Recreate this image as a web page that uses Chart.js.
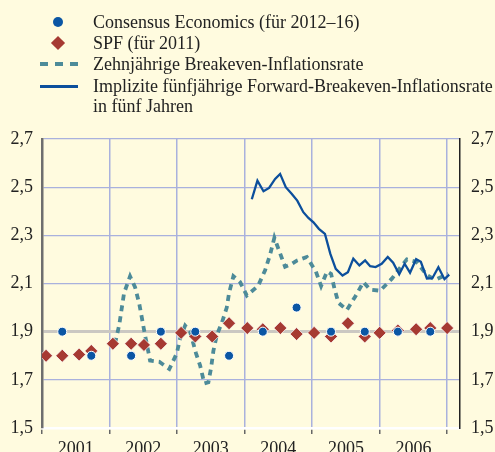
<!DOCTYPE html>
<html><head><meta charset="utf-8">
<script src="https://cdn.jsdelivr.net/npm/chart.js@4/dist/chart.umd.min.js"></script>
<style>
html,body{margin:0;padding:0;background:#fffbdf;}
#wrap{position:relative;width:495px;height:452px;overflow:hidden;background:#fffbdf;}
#c{position:absolute;left:0;top:0;}
.lg{position:absolute;left:93px;font-family:"Liberation Serif","Times New Roman",serif;font-size:18px;line-height:20px;color:#222;white-space:nowrap;}
.ic{position:absolute;}
</style></head>
<body><div id="wrap">
<canvas id="c" width="495" height="452"></canvas>
<div class="ic" style="left:53px;top:17px;width:10px;height:10px;border-radius:50%;background:#0b56a4;"></div>
<div class="ic" style="left:53px;top:38px;width:10px;height:10px;background:#a63a32;transform:rotate(45deg);"></div>
<div class="ic" style="left:40px;top:62px;width:38px;height:4px;background:repeating-linear-gradient(to right,#4d8b99 0 8px,transparent 8px 15px);"></div>
<div class="ic" style="left:40px;top:85px;width:38px;height:2.5px;background:#0c4f9c;"></div>
<div class="lg" style="top:12px;">Consensus Economics (für 2012–16)</div>
<div class="lg" style="top:33px;">SPF (für 2011)</div>
<div class="lg" style="top:54px;">Zehnjährige Breakeven-Inflationsrate</div>
<div class="lg" style="top:76px;">Implizite fünfjährige Forward-Breakeven-Inflationsrate<br>in fünf Jahren</div>
</div>
<script>
// ---- data ----
const years = [2001, 2002, 2003, 2004, 2005, 2006];
const yearLabels = ['2001', '2002', '2003', '2004', '2005', '2006'];
const yTickValues = [1.5, 1.7, 1.9, 2.1, 2.3, 2.5, 2.7];
const yTickLabels = ['1,5', '1,7', '1,9', '2,1', '2,3', '2,5', '2,7'];

const consTimes = [2001.30, 2001.73, 2002.32, 2002.76, 2003.27, 2003.77, 2004.27, 2004.77, 2005.28, 2005.78, 2006.27, 2006.75];
const consValues = [1.90, 1.80, 1.80, 1.90, 1.90, 1.80, 1.90, 2.00, 1.90, 1.90, 1.90, 1.90];

const spfTimes = [2001.06, 2001.30, 2001.55, 2001.73, 2002.05, 2002.32, 2002.51, 2002.76, 2003.06, 2003.27, 2003.52, 2003.77,
  2004.04, 2004.27, 2004.53, 2004.77, 2005.03, 2005.28, 2005.53, 2005.78, 2006.00, 2006.27, 2006.54, 2006.75, 2007.00];
const spfValues = [1.80, 1.80, 1.805, 1.82, 1.85, 1.85, 1.845, 1.85, 1.895, 1.88, 1.88, 1.935,
  1.915, 1.91, 1.915, 1.89, 1.895, 1.88, 1.935, 1.88, 1.895, 1.905, 1.91, 1.915, 1.915];

const beTimes = [2002.081, 2002.145, 2002.215, 2002.304, 2002.378, 2002.441, 2002.477, 2002.516, 2002.600, 2002.738, 2002.886,
  2002.996, 2003.044, 2003.119, 2003.193, 2003.281, 2003.341, 2003.404, 2003.464, 2003.504, 2003.538, 2003.588, 2003.667,
  2003.736, 2003.770, 2003.834, 2003.933, 2004.033, 2004.200, 2004.304, 2004.378, 2004.441, 2004.519, 2004.600, 2004.689,
  2004.773, 2004.921, 2005.055, 2005.133, 2005.222, 2005.281, 2005.330, 2005.390, 2005.514, 2005.637, 2005.760, 2005.859,
  2006.007, 2006.181, 2006.329, 2006.403, 2006.541, 2006.630, 2006.700, 2006.822, 2007.019];
const beValues = [1.85, 1.93, 2.06, 2.13, 2.085, 2.015, 1.96, 1.90, 1.78, 1.775, 1.745,
  1.81, 1.87, 1.925, 1.90, 1.81, 1.76, 1.685, 1.69, 1.75, 1.82, 1.885, 1.94,
  2.00, 2.06, 2.13, 2.106, 2.05, 2.09, 2.155, 2.22, 2.29, 2.23, 2.17, 2.18,
  2.195, 2.21, 2.15, 2.09, 2.15, 2.14, 2.08, 2.02, 1.99, 2.045, 2.106, 2.075,
  2.07, 2.12, 2.175, 2.20, 2.19, 2.16, 2.135, 2.115, 2.14];

const fwdTimes = [2004.107, 2004.190, 2004.280, 2004.363, 2004.452, 2004.526, 2004.610, 2004.700, 2004.780, 2004.870, 2004.945, 2005.020,
  2005.100, 2005.190, 2005.270, 2005.350, 2005.450, 2005.530, 2005.610, 2005.700, 2005.785, 2005.860, 2005.940, 2006.030,
  2006.120, 2006.200, 2006.290, 2006.370, 2006.450, 2006.540, 2006.610, 2006.700, 2006.780, 2006.870, 2006.960, 2007.030];
const fwdValues = [2.45, 2.527, 2.483, 2.497, 2.534, 2.555, 2.50, 2.472, 2.444, 2.396, 2.372, 2.354,
  2.327, 2.306, 2.223, 2.161, 2.133, 2.147, 2.203, 2.175, 2.196, 2.172, 2.168, 2.182,
  2.21, 2.186, 2.138, 2.182, 2.145, 2.201, 2.19, 2.121, 2.122, 2.168, 2.118, 2.137];

// ---- build ----
const pts = (xs, ys) => xs.map((x, i) => ({ x: x, y: ys[i] }));
const serif = { family: '"Liberation Serif","Times New Roman",serif', size: 18 };
const near = (a, b) => Math.abs(a - b) < 1e-6;
const yLabel = v => { const i = yTickValues.findIndex(t => near(t, v)); return i >= 0 ? yTickLabels[i] : ''; };
const xTickVals = [];
years.forEach(y => { xTickVals.push(y); xTickVals.push(y + 0.5); });
xTickVals.push(2007);
const isYear = v => near(v, Math.round(v));

new Chart(document.getElementById('c'), {
  type: 'scatter',
  data: {
    datasets: [
      { label: 'Consensus Economics (für 2012–16)', data: pts(consTimes, consValues), pointStyle: 'circle',
        pointRadius: 4.5, backgroundColor: '#0b56a4', borderColor: '#ffffff', borderWidth: 1, showLine: false },
      { label: 'SPF (für 2011)', data: pts(spfTimes, spfValues), pointStyle: 'rectRot',
        pointRadius: 6.5, backgroundColor: '#a63a32', borderColor: 'rgba(255,255,255,0.7)', borderWidth: 1, showLine: false },
      { label: 'Implizite fünfjährige Forward-Breakeven-Inflationsrate in fünf Jahren', data: pts(fwdTimes, fwdValues),
        showLine: true, pointRadius: 0, borderColor: '#0c4f9c', borderWidth: 2.3, tension: 0 },
      { label: 'Zehnjährige Breakeven-Inflationsrate', data: pts(beTimes, beValues),
        showLine: true, pointRadius: 0, borderColor: '#4d8b99', borderWidth: 3.8, borderDash: [6, 5], borderCapStyle: 'butt', tension: 0 }
    ]
  },
  options: {
    responsive: false, animation: false, devicePixelRatio: 1,
    layout: { padding: { top: 139, left: 0, right: 0, bottom: 0 } },
    plugins: { legend: { display: false }, tooltip: { enabled: false } },
    scales: {
      x: {
        type: 'linear', min: 2001, max: 2007.19,
        afterBuildTicks: s => { s.ticks = xTickVals.map(v => ({ value: v })); },
        afterFit: s => { s.height = 24; },
        ticks: { autoSkip: false, maxRotation: 0, padding: 4, color: '#222', font: serif,
          callback: v => { if (isYear(v)) return ''; const i = years.indexOf(Math.floor(v)); return i >= 0 ? yearLabels[i] : ''; } },
        grid: { color: c => isYear(c.tick.value) ? '#a9b1dd' : 'rgba(0,0,0,0)', lineWidth: 1.5,
          tickColor: c => isYear(c.tick.value) ? '#666' : 'rgba(0,0,0,0)', tickLength: 6, drawTicks: true },
        border: { color: '#ffffff', width: 2.5 }
      },
      y: {
        position: 'left', min: 1.5, max: 2.7,
        afterBuildTicks: s => { s.ticks = yTickValues.map(v => ({ value: v })); },
        afterFit: s => { s.width = 42; },
        ticks: { padding: 9, color: '#222', font: serif, callback: v => yLabel(v) },
        grid: { drawTicks: false,
          color: c => near(c.tick.value, 1.5) ? 'rgba(0,0,0,0)' : (near(c.tick.value, 1.9) ? '#cbc8c2' : '#a9b1dd'),
          lineWidth: c => near(c.tick.value, 1.9) ? 3 : 1.3 },
        border: { color: '#6e6e6e', width: 2.5 }
      },
      y2: {
        position: 'right', min: 1.5, max: 2.7,
        afterBuildTicks: s => { s.ticks = yTickValues.map(v => ({ value: v })); },
        afterFit: s => { s.width = 35; },
        ticks: { padding: 11, color: '#222', font: serif, callback: v => yLabel(v) },
        grid: { display: false, drawTicks: false },
        border: { color: '#222222', width: 1.5 }
      }
    }
  }
});
</script>
</body></html>
